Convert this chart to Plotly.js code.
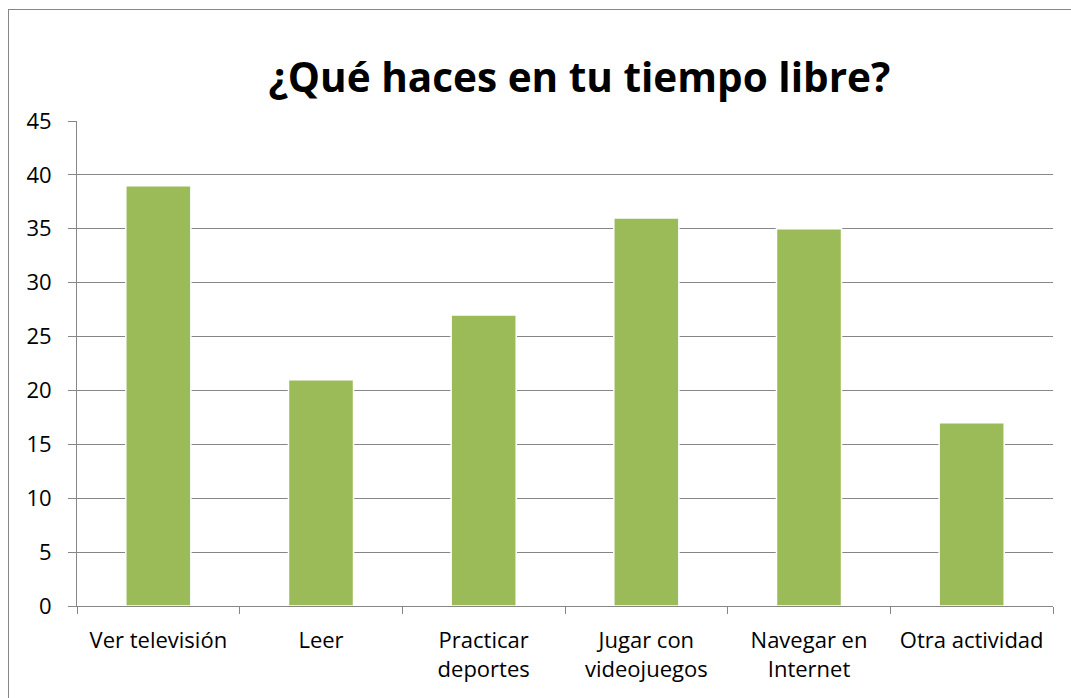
<!DOCTYPE html>
<html>
<head>
<meta charset="utf-8">
<script src="https://cdn.plot.ly/plotly-3.0.1.min.js"></script>
<style>
  body { margin: 0; background: white; }
  #chart { width: 1071px; height: 698px; }
  #frame { position: absolute; left: 8px; top: 9px; width: 1080px; height: 700px;
           border: 1px solid #868686; pointer-events: none; }
</style>
</head>
<body>
<div id="chart"></div>
<div id="frame"></div>
<script>
(function(){
    const categories = ['Ver televisión', 'Leer', 'Practicar<br>deportes', 'Jugar con<br>videojuegos', 'Navegar en<br>Internet', 'Otra actividad'];
    const values = [39, 21, 27, 36, 35, 17];
    const yTicks = [0, 5, 10, 15, 20, 25, 30, 35, 40, 45];

    const data = [{
        type: 'bar',
        x: categories,
        y: values,
        width: 0.4,
        marker: {color: '#9BBB59', line: {color: 'white', width: 1.5}},
        hoverinfo: 'x+y',
        showlegend: false
    }];

    const layout = {
        title: {
            text: '<b>¿Qué haces en tu tiempo libre?</b>',
            font: {family: 'Open Sans, sans-serif', size: 40.5, color: '#000'},
            x: 0.541, xanchor: 'center', y: 0.888, yanchor: 'middle'
        },
        width: 1071,
        height: 698,
        margin: {l: 77, r: 18, t: 121, b: 92},
        paper_bgcolor: 'white',
        plot_bgcolor: 'white',
        font: {family: 'Open Sans, sans-serif', size: 22, color: '#000'},
        bargap: 0.6,
        xaxis: {
            type: 'category',
            showline: true, linecolor: '#868686', linewidth: 1,
            ticks: 'outside', ticklen: 7, tickcolor: '#868686',
            tickson: 'boundaries',
            showgrid: false,
            ticklabelstandoff: 15,
            tickfont: {size: 22}
        },
        yaxis: {
            range: [0, 45],
            tickvals: yTicks,
            showline: true, linecolor: '#868686', linewidth: 1,
            ticks: 'outside', ticklen: 8, tickcolor: '#868686',
            showgrid: true, gridcolor: '#868686', gridwidth: 1,
            zeroline: false,
            ticklabelstandoff: 12,
            tickfont: {size: 22}
        }
    };

    Plotly.newPlot('chart', data, layout, {displayModeBar: false, staticPlot: true});
})();
</script>
</body>
</html>
